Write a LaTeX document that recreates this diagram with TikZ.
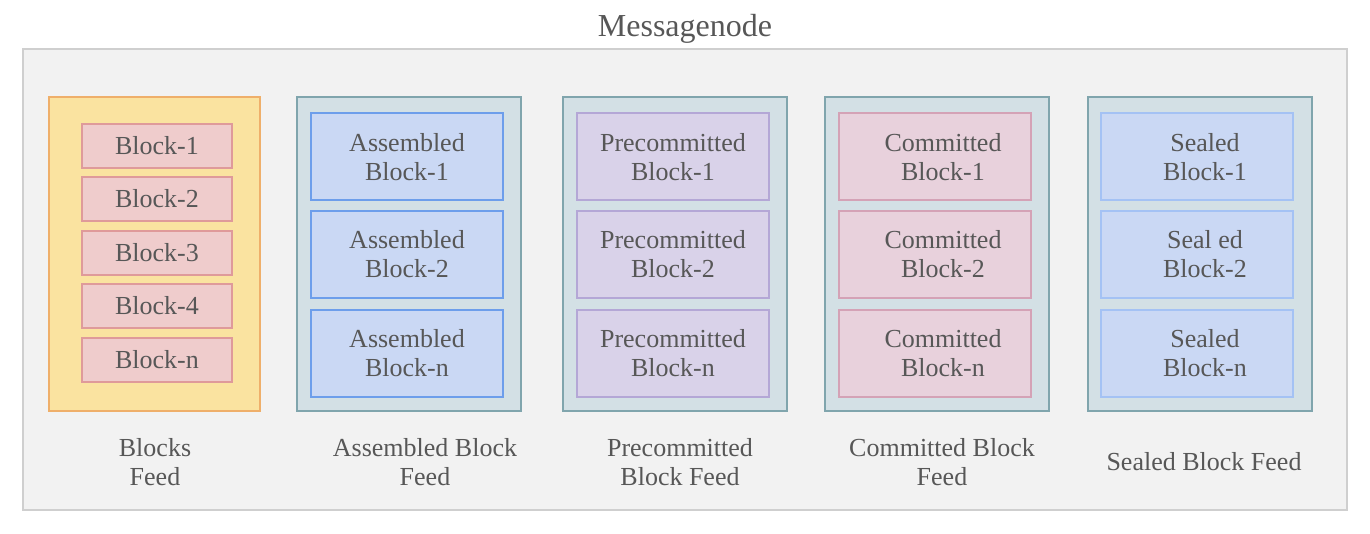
\documentclass[tikz,border=0pt]{standalone}
\usepackage{fontspec}
\setmainfont{Liberation Serif}
\definecolor{txt}{HTML}{575757}
\definecolor{outerbg}{HTML}{F2F2F2}
\definecolor{outerdr}{HTML}{CFCFCF}
\definecolor{yelbg}{HTML}{FAE3A0}
\definecolor{yeldr}{HTML}{EFAF6A}
\definecolor{pinkbg}{HTML}{EFCCCC}
\definecolor{pinkdr}{HTML}{DF9A9A}
\definecolor{tealbg}{HTML}{D3E0E5}
\definecolor{tealdr}{HTML}{80A5AD}
\definecolor{asmbg}{HTML}{CAD8F4}
\definecolor{asmdr}{HTML}{6D9EEB}
\definecolor{prebg}{HTML}{D9D2E9}
\definecolor{predr}{HTML}{B4A7D6}
\definecolor{combg}{HTML}{E8D1DC}
\definecolor{comdr}{HTML}{D4A2B6}
\definecolor{selbg}{HTML}{CAD8F4}
\definecolor{seldr}{HTML}{A4C2F4}
\newcommand{\sh}{\hspace*{8pt}}
\begin{document}
\begin{tikzpicture}[x=0.5pt,y=-0.5pt,
  every node/.style={text=txt,font=\fontsize{13}{14.5}\selectfont,inner sep=0pt,align=center},
  box/.style={draw=#1,line width=1pt}]
\useasboundingbox (0,0) rectangle (1370,534);
% outer
\node[box=outerdr,fill=outerbg,minimum width=662pt,minimum height=230.5pt] (outer) at (685,279.5) {};
\node[font=\fontsize{16}{18}\selectfont] (title) at (685,29) {Messagenode};
% column 1
\node[box=yeldr,fill=yelbg,minimum width=105.5pt,minimum height=157pt] (c1) at (154.5,254) {};
\foreach \i/\y/\t in {1/146/Block-1,2/199/Block-2,3/253/Block-3,4/306/Block-4,5/360/Block-n}{
  \node[box=pinkdr,fill=pinkbg,minimum width=75pt,minimum height=22pt] (b\i) at (157,\y) {\t};
}
% container columns
\foreach \c/\x in {2/409,3/675,4/937,5/1199.5}{
  \node[box=tealdr,fill=tealbg,minimum width=112pt,minimum height=157pt] (c\c) at (\x,254) {};
}
\foreach \c/\x/\bg/\dr/\w/\s in {2/407/asmbg/asmdr/Assembled/0pt,3/673/prebg/predr/Precommitted/0pt,4/935/combg/comdr/Committed/8pt}{
  \node[box=\dr,fill=\bg,minimum width=96pt,minimum height=43.5pt] (c\c a) at (\x,157) {\hspace*{\s}\w\\\hspace*{\s}Block-1};
  \node[box=\dr,fill=\bg,minimum width=96pt,minimum height=43.5pt] (c\c b) at (\x,254.5) {\hspace*{\s}\w\\\hspace*{\s}Block-2};
  \node[box=\dr,fill=\bg,minimum width=96pt,minimum height=43.5pt] (c\c n) at (\x,353.5) {\hspace*{\s}\w\\\hspace*{\s}Block-n};
}
\node[box=seldr,fill=selbg,minimum width=96pt,minimum height=43.5pt] (c5a) at (1197,157) {\sh Sealed\\\sh Block-1};
\node[box=seldr,fill=selbg,minimum width=96pt,minimum height=43.5pt] (c5b) at (1197,254.5) {\sh Seal ed\\\sh Block-2};
\node[box=seldr,fill=selbg,minimum width=96pt,minimum height=43.5pt] (c5n) at (1197,353.5) {\sh Sealed\\\sh Block-n};
% labels
\node (l1) at (155,462) {Blocks\\Feed};
\node (l2) at (425,462) {Assembled Block\\Feed};
\node (l3) at (680,462) {Precommitted\\Block Feed};
\node (l4) at (942,462) {Committed Block\\Feed};
\node (l5) at (1204,462) {Sealed Block Feed};
\end{tikzpicture}
\end{document}
